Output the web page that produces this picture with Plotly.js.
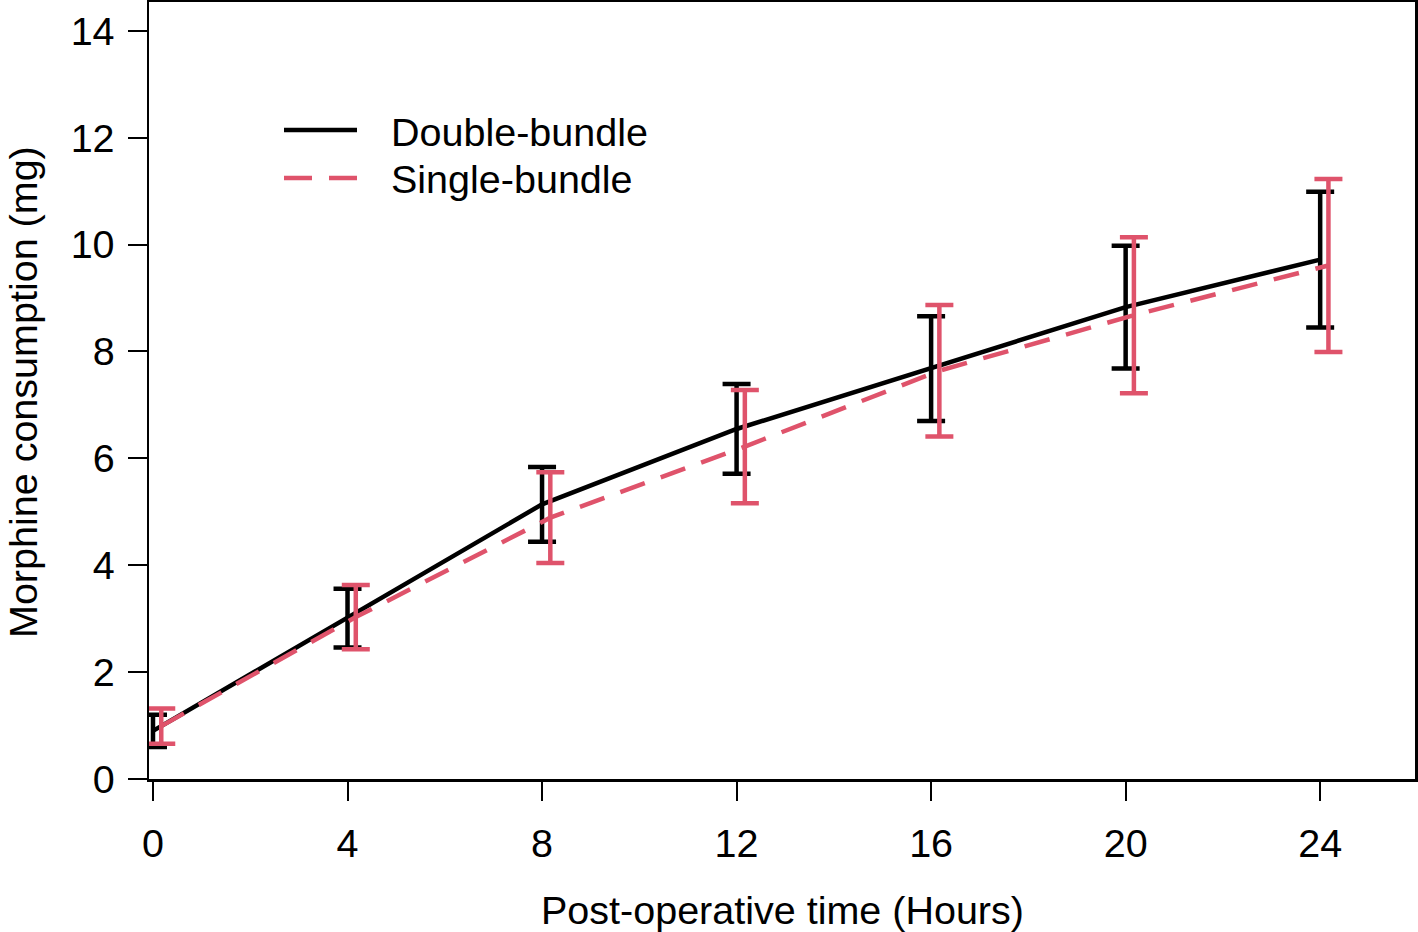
<!DOCTYPE html>
<html>
<head>
<meta charset="utf-8">
<script src="https://cdn.plot.ly/plotly-3.0.1.min.js"></script>
<style>html,body{margin:0;padding:0;background:#fff;}#chart{width:1418px;height:932px;}</style>
</head>
<body>
<div id="chart"></div>
<script>
// Data
const hours = [0, 4, 8, 12, 16, 20, 24];
const doubleMean = [0.90, 3.01, 5.14, 6.55, 7.68, 8.83, 9.72];
const doubleErr  = [0.30, 0.55, 0.70, 0.84, 0.98, 1.15, 1.27];
const singleMean = [0.99, 3.03, 4.89, 6.22, 7.64, 8.68, 9.61];
const singleErr  = [0.33, 0.60, 0.85, 1.06, 1.23, 1.46, 1.62];
const seriesNames = ["Double-bundle", "Single-bundle"];
const xTicks = [0, 4, 8, 12, 16, 20, 24];
const yTicks = [0, 2, 4, 6, 8, 10, 12, 14];

const BLACK = "#000000";
const RED = "#DF536B";
const offset = 0.17;
const FONT = "Liberation Sans, Arial, Helvetica, sans-serif";
const FS = 39.5;

const traces = [
  {
    x: hours, y: doubleMean, type: "scatter", mode: "lines", name: seriesNames[0],
    line: {color: BLACK, width: 4.5},
    error_y: {type: "data", array: doubleErr, visible: true, color: BLACK, thickness: 4.5, width: 14},
    showlegend: false
  },
  {
    x: hours.map(h => h + offset), y: singleMean, type: "scatter", mode: "lines", name: seriesNames[1],
    line: {color: RED, width: 4.5, dash: "26px,17px"},
    error_y: {type: "data", array: singleErr, visible: true, color: RED, thickness: 4.5, width: 14},
    showlegend: false
  }
];

const W = 1418, H = 932;
const L = 149, R = 3, T = 2, B = 153;
const pw = W - L - R, ph = H - T - B;
const px = v => (v - L) / pw;
const py = v => (H - B - v) / ph;

const layout = {
  width: W, height: H,
  margin: {l: L, r: R, t: T, b: B, pad: 0},
  paper_bgcolor: "#fff", plot_bgcolor: "#fff",
  font: {family: FONT, size: FS, color: "#000"},
  showlegend: false,
  xaxis: {
    range: [-0.082, 25.95], tickvals: xTicks, ticktext: xTicks.map(String),
    ticks: "outside", ticklen: 19, tickwidth: 2, tickcolor: "#000",
    ticklabelstandoff: 9,
    showline: true, mirror: true, linecolor: "#000", linewidth: 2.5,
    showgrid: false, zeroline: false,
    tickfont: {family: FONT, size: FS, color: "#000"}
  },
  yaxis: {
    range: [0, 14.54], tickvals: yTicks, ticktext: yTicks.map(String),
    ticks: "outside", ticklen: 19, tickwidth: 2, tickcolor: "#000",
    ticklabelstandoff: 5,
    showline: true, mirror: true, linecolor: "#000", linewidth: 2.5,
    showgrid: false, zeroline: false,
    tickfont: {family: FONT, size: FS, color: "#000"}
  },
  shapes: [
    {type: "line", xref: "paper", yref: "paper", x0: px(284), x1: px(357), y0: py(130), y1: py(130),
     line: {color: BLACK, width: 4.5}},
    {type: "line", xref: "paper", yref: "paper", x0: px(284), x1: px(357), y0: py(178), y1: py(178),
     line: {color: RED, width: 4.5, dash: "28px,17px"}}
  ],
  annotations: [
    {text: seriesNames[0], xref: "paper", yref: "paper", x: px(389), y: py(132), xanchor: "left", yanchor: "middle",
     showarrow: false, font: {family: FONT, size: FS, color: "#000"}},
    {text: seriesNames[1], xref: "paper", yref: "paper", x: px(389), y: py(179), xanchor: "left", yanchor: "middle",
     showarrow: false, font: {family: FONT, size: FS, color: "#000"}},
    {text: "Post-operative time (Hours)", xref: "paper", yref: "paper", x: 0.5, y: py(910), xanchor: "center", yanchor: "middle",
     showarrow: false, font: {family: FONT, size: FS, color: "#000"}},
    {text: "Morphine consumption (mg)", xref: "paper", yref: "paper", x: px(23), y: py(392), xanchor: "center", yanchor: "middle",
     textangle: -90, showarrow: false, font: {family: FONT, size: FS, color: "#000"}}
  ]
};

Plotly.newPlot("chart", traces, layout, {staticPlot: true, displayModeBar: false});
</script>
</body>
</html>
